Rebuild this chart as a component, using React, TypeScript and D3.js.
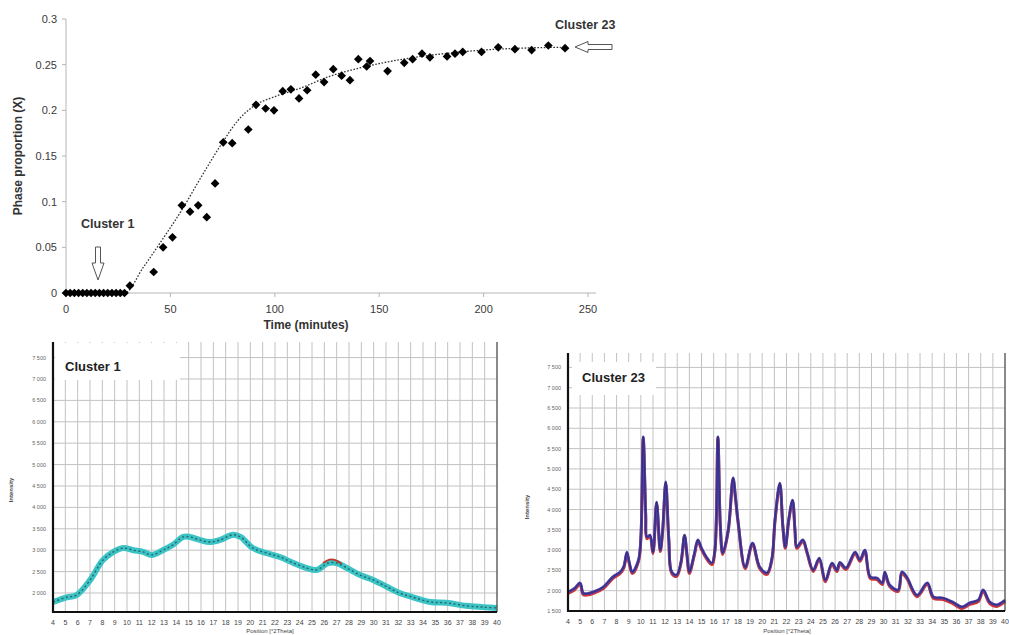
import React from "react";
import * as d3 from "d3";

// ---- top chart: phase proportion vs time ----
const timeMin = [0, 2, 4, 6, 8, 10, 12, 14, 16, 18, 20, 22, 24, 26, 28,
  30.6, 42, 46.5, 51, 55.5, 59.4, 63.3, 67.4, 71.4, 75.3, 79.6, 87.3, 91, 95.6, 99.6,
  103.8, 107.7, 111.6, 115.5, 119.6, 123.6, 128, 132, 136, 140, 144, 145.6, 154, 162,
  166, 170.5, 174.3, 182.5, 186.3, 190, 199, 207, 215, 223, 231, 239];
const phaseX = [0, 0, 0, 0, 0, 0, 0, 0, 0, 0, 0, 0, 0, 0, 0,
  0.008, 0.023, 0.05, 0.061, 0.096, 0.089, 0.096, 0.083, 0.12, 0.165, 0.164, 0.179, 0.206, 0.202, 0.2,
  0.221, 0.223, 0.213, 0.222, 0.239, 0.231, 0.245, 0.238, 0.233, 0.256, 0.248, 0.254, 0.243, 0.252,
  0.256, 0.262, 0.258, 0.259, 0.262, 0.264, 0.264, 0.269, 0.267, 0.266, 0.271, 0.268];
const fitTime = [0, 28, 37, 46, 55.5, 65, 75, 82, 89.5, 100, 112, 126, 140, 154, 170, 185, 200, 217, 237];
const fitX = [0, 0, 0.028, 0.058, 0.091, 0.128, 0.165, 0.188, 0.204, 0.215, 0.224, 0.237, 0.246, 0.253, 0.259, 0.263, 0.266, 0.268, 0.269];
const timeTicks = [0, 50, 100, 150, 200, 250];
const phaseTicks = [0, 0.05, 0.1, 0.15, 0.2, 0.25, 0.3];

// ---- bottom left: cluster 1 diffractogram ----
const c1Pos = [4, 5.1, 5.9, 7, 8.05, 8.9, 9.7, 10.5, 11.3, 12, 12.9, 13.7, 14.55, 15.1, 15.9, 16.7, 17.55,
  18.6, 19.2, 20.2, 21.35, 22.4, 23.5, 24.6, 25.4, 26.3, 27, 27.85, 28.9, 30, 31.1, 32.1, 33.2, 34.6,
  35.9, 37.5, 38.9, 40];
const c1Int = [1790, 1900, 1950, 2300, 2770, 2960, 3050, 3000, 2960, 2890, 3000, 3120, 3310, 3310, 3240,
  3190, 3240, 3360, 3310, 3050, 2930, 2840, 2700, 2580, 2540, 2700, 2700, 2580, 2420, 2300, 2140, 2000,
  1900, 1790, 1770, 1700, 1670, 1650];
const c1RedPos = [25.9, 26.4, 26.9, 27.4];
const c1RedInt = [2700, 2780, 2770, 2680];
const c1Ticks = [2000, 2500, 3000, 3500, 4000, 4500, 5000, 5500, 6000, 6500, 7000, 7500];

// ---- bottom right: cluster 23 diffractogram ----
const c23Pos = [4, 4.5, 5, 5.25, 5.6, 6.1, 6.9, 7.7, 8.3, 8.6, 8.85, 9.05, 9.3, 9.8, 10, 10.2, 10.4, 10.5,
  10.75, 11, 11.3, 11.6, 11.8, 12.05, 12.3, 12.55, 12.95, 13.3, 13.6, 13.8, 14, 14.4, 14.7, 15, 15.4,
  15.85, 16.1, 16.35, 16.55, 16.75, 17.2, 17.6, 17.8, 18, 18.6, 19.2, 19.8, 20.4, 20.8, 21.05, 21.45,
  21.7, 21.9, 22.2, 22.5, 22.7, 22.85, 23.35, 23.7, 24.2, 24.7, 25.2, 25.75, 26.15, 26.4, 26.9, 27.65,
  28.05, 28.45, 28.9, 29.45, 29.9, 30.1, 30.5, 31.2, 31.5, 31.9, 32.75, 33.6, 34.1, 34.9, 35.7, 36.45,
  37.1, 37.8, 38.2, 38.75, 39.3, 40];
const c23Int = [1970, 2050, 2190, 1940, 1930, 1970, 2090, 2340, 2460, 2600, 2950, 2700, 2460, 2750, 3300,
  5790, 3900, 3320, 3370, 2950, 4180, 3000, 3500, 4680, 3300, 2460, 2390, 2700, 3370, 2900, 2460, 2900,
  3250, 3050, 2830, 2680, 3000, 5790, 3600, 2930, 3500, 4780, 4300, 3740, 2580, 3170, 2580, 2440, 2800,
  3740, 4650, 3600, 3080, 3790, 4230, 3500, 3080, 3250, 2950, 2510, 2800, 2260, 2680, 2510, 2700, 2560,
  2950, 2760, 3000, 2340, 2310, 2190, 2460, 2140, 2020, 2460, 2340, 1890, 2190, 1850, 1820, 1720, 1600,
  1700, 1770, 2020, 1720, 1650, 1770];
const c23Ticks = [1500, 2000, 2500, 3000, 3500, 4000, 4500, 5000, 5500, 6000, 6500, 7000, 7500];

const thetaTicks = d3.range(4, 41);
const FONT = "'Liberation Sans', Arial, sans-serif";
const fmtInt = d3.formatLocale({ decimal: ".", thousands: " ", grouping: [3], currency: ["", ""] }).format(",");

const zip = (a: number[], b: number[]) => a.map((v, i) => [v, b[i]] as [number, number]);

function Diffractogram(props: any) {
  const { x0, x1, yTop, yBot, yDomain, yTicks, title, box, titleX, titleY, labX, labY, children } = props;
  const x = d3.scaleLinear().domain([4, 40]).range([x0, x1]);
  const y = d3.scaleLinear().domain(yDomain).range([yBot, yTop]);
  return (
    <g fontFamily={FONT}>
      {thetaTicks.map((t) => (
        <line key={"v" + t} x1={x(t)} x2={x(t)} y1={yTop} y2={yBot} stroke="#c2c2c2" strokeWidth={1} />
      ))}
      {yTicks.map((t: number) => (
        <line key={"h" + t} x1={x0} x2={x1} y1={y(t)} y2={y(t)} stroke="#c2c2c2" strokeWidth={1} />
      ))}
      <rect x={box[0]} y={box[1]} width={box[2]} height={box[3]} fill="#fff" />
      <text x={titleX} y={titleY} fontSize={13} fontWeight="bold" fill="#222">{title}</text>
      {children(x, y)}
      <line x1={x1} x2={x1} y1={yTop} y2={yBot} stroke="#333" strokeWidth={1} />
      <line x1={x0} x2={x0} y1={yTop} y2={yBot + 1} stroke="#111" strokeWidth={2.2} />
      <line x1={x0 - 1} x2={x1} y1={yBot} y2={yBot} stroke="#111" strokeWidth={2.2} />
      {yTicks.map((t: number) => (
        <text key={"yl" + t} x={x0 - 7} y={y(t) + 2} fontSize={5.5} textAnchor="end" fill="#666">{fmtInt(t)}</text>
      ))}
      {thetaTicks.map((t) => (
        <text key={"xl" + t} x={x(t)} y={yBot + 13} fontSize={7} textAnchor="middle" fill="#444">{t}</text>
      ))}
      <text transform={`translate(${labY[0]},${labY[1]}) rotate(-90)`} fontSize={6} fontWeight="bold" textAnchor="middle" fill="#444">Intensity</text>
      <text x={labX[0]} y={labX[1]} fontSize={6} textAnchor="middle" fill="#444">Position [°2Theta]</text>
    </g>
  );
}

export default function App() {
  const W = 1009, H = 635;
  const x = d3.scaleLinear().domain([0, 250]).range([66, 588]);
  const y = d3.scaleLinear().domain([0, 0.3]).range([293, 19]);
  const fitLine = d3.line<[number, number]>().x((d) => x(d[0])).y((d) => y(d[1])).curve(d3.curveMonotoneX);
  const diamond = d3.symbol().type(d3.symbolSquare).size(38)();

  return (
    <svg width={W} height={H} style={{ position: "absolute", left: 0, top: 0, background: "#fff" }}>
      <rect width={W} height={H} fill="#fff" />
      {/* top kinetic chart */}
      <g fontFamily={FONT}>
        <line x1={x(0)} x2={x(0)} y1={y(0.3)} y2={y(0)} stroke="#b5b5b5" />
        <line x1={x(0)} x2={x(250) + 8} y1={y(0)} y2={y(0)} stroke="#b5b5b5" />
        {phaseTicks.map((t) => (
          <g key={"py" + t}>
            <line x1={x(0) - 4} x2={x(0)} y1={y(t)} y2={y(t)} stroke="#b5b5b5" />
            <text x={x(0) - 9} y={y(t) + 4} fontSize={11} textAnchor="end" fill="#3a3a3a">{t}</text>
          </g>
        ))}
        {timeTicks.map((t) => (
          <g key={"tx" + t}>
            <line x1={x(t)} x2={x(t)} y1={y(0)} y2={y(0) + 4} stroke="#b5b5b5" />
            <text x={x(t)} y={y(0) + 20} fontSize={11} textAnchor="middle" fill="#3a3a3a">{t}</text>
          </g>
        ))}
        <path d={fitLine(zip(fitTime, fitX)) || ""} fill="none" stroke="#333" strokeWidth={1.3} strokeDasharray="1.6 1.6" />
        {timeMin.map((t, i) => (
          <path key={"d" + i} d={diamond || ""} transform={`translate(${x(t)},${y(phaseX[i])}) rotate(45)`} fill="#000" />
        ))}
        <text transform={`translate(22,${y(0.15)}) rotate(-90)`} fontSize={12} fontWeight="bold" textAnchor="middle" fill="#333">Phase proportion (X)</text>
        <text x={306} y={329} fontSize={12} fontWeight="bold" textAnchor="middle" fill="#333">Time (minutes)</text>
        <text x={81} y={228} fontSize={12.5} fontWeight="bold" fill="#333">Cluster 1</text>
        <text x={555} y={29} fontSize={12.5} fontWeight="bold" fill="#333">Cluster 23</text>
        <path d="M95.5,247 L100.5,247 L100.5,263 L104,263 L98,280 L92,263 L95.5,263 Z" fill="#fff" stroke="#555" strokeWidth={1} />
        <path d="M575,47 L588,41.5 L588,44.5 L612,44.5 L612,49.5 L588,49.5 L588,52.5 Z" fill="#fff" stroke="#555" strokeWidth={1} />
      </g>

      {/* bottom left: Cluster 1 */}
      <Diffractogram
        x0={53} x1={497} yTop={342} yBot={612} yDomain={[1556, 7864]} yTicks={c1Ticks}
        title="Cluster 1" box={[55, 343, 125, 37]} titleX={65} titleY={371}
        labX={[270, 633]} labY={[13, 490]}
      >
        {(sx: any, sy: any) => {
          const ln = d3.line<[number, number]>().x((d) => sx(d[0])).y((d) => sy(d[1])).curve(d3.curveCatmullRom);
          return (
            <g>
              <path d={ln(zip(c1Pos, c1Int)) || ""} fill="none" stroke="#3cc3c6" strokeWidth={6} strokeLinejoin="round" />
              <path d={ln(zip(c1RedPos, c1RedInt)) || ""} fill="none" stroke="#c0392b" strokeWidth={1.8} />
              <path d={ln(zip(c1Pos, c1Int)) || ""} fill="none" stroke="#1f3d3d" strokeWidth={1.4} strokeDasharray="2 2.5" opacity={0.7} />
            </g>
          );
        }}
      </Diffractogram>

      {/* bottom right: Cluster 23 */}
      <Diffractogram
        x0={568} x1={1005} yTop={353} yBot={611} yDomain={[1500, 7855]} yTicks={c23Ticks}
        title="Cluster 23" box={[572, 362, 84, 33]} titleX={582} titleY={382}
        labX={[787, 633]} labY={[529, 507]}
      >
        {(sx: any, sy: any) => {
          const ln = d3.line<[number, number]>().x((d) => sx(d[0])).y((d) => sy(d[1])).curve(d3.curveCatmullRom.alpha(0.5));
          const pts = zip(c23Pos, c23Int);
          return (
            <g>
              <path d={ln(pts) || ""} transform="translate(0,1.5)" fill="none" stroke="#d03535" strokeWidth={3} strokeLinejoin="round" />
              <path d={ln(pts) || ""} fill="none" stroke="#4a3fa6" strokeWidth={2.8} strokeLinejoin="round" />
              <path d={ln(pts) || ""} fill="none" stroke="#2a2060" strokeWidth={0.8} opacity={0.8} />
            </g>
          );
        }}
      </Diffractogram>
    </svg>
  );
}
